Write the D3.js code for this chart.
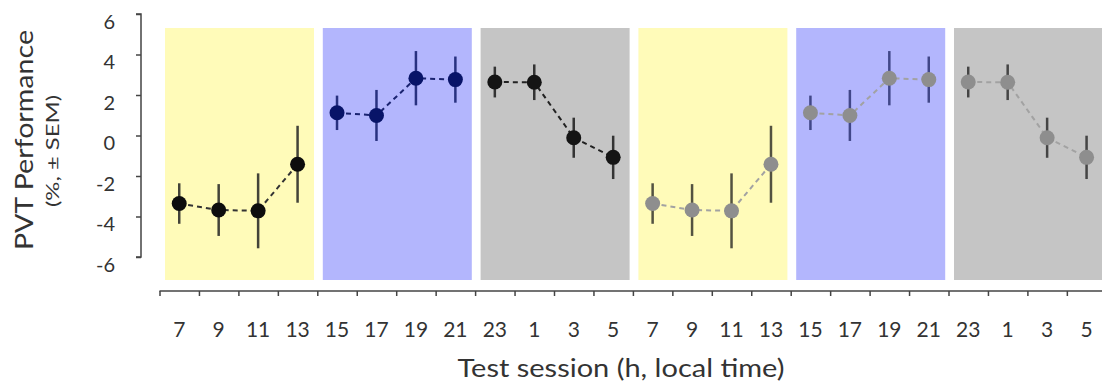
<!DOCTYPE html>
<html>
<head>
<meta charset="utf-8">
<script src="https://cdn.jsdelivr.net/npm/d3@7"></script>
<style>
  html, body { margin: 0; padding: 0; background: #fff; }
  svg { display: block; font-family: "Lato", "Open Sans", sans-serif; }
</style>
</head>
<body>
<svg id="chart" width="1102" height="387"></svg>
<script>
// Test-session clock times (h), double-plotted over two days
const sessionLabels = ["7","9","11","13","15","17","19","21","23","1","3","5",
                       "7","9","11","13","15","17","19","21","23","1","3","5"];
// PVT performance (%) and SEM per session
const perfMean = [-3.36, -3.68, -3.72, -1.42, 1.12, 0.99, 2.83, 2.76, 2.64, 2.63, -0.11, -1.08,
                  -3.36, -3.68, -3.72, -1.42, 1.12, 0.99, 2.83, 2.76, 2.64, 2.63, -0.11, -1.08];
const perfSem  = [1.00, 1.28, 1.85, 1.90, 0.85, 1.26, 1.34, 1.14, 0.76, 0.88, 0.99, 1.07,
                  1.00, 1.28, 1.85, 1.90, 0.85, 1.26, 1.34, 1.14, 0.76, 0.88, 0.99, 1.07];
const yTicks = [-6, -4, -2, 0, 2, 4, 6];
// Six 4-session phases: morning (yellow), evening (blue), night (grey)
const phaseFill = ["#fffbb9", "#b3b6fd", "#c5c5c5", "#fffbb9", "#b3b6fd", "#c5c5c5"];
const dotColor  = ["#0d0d0d", "#081468", "#141414", "#8e8e8e", "#8e8e8e", "#8e8e8e"];
const lineColor = ["#333333", "#1a2370", "#222222", "#a2a2a2", "#a2a2a2", "#a2a2a2"];
const barColor  = ["#222222", "#0f1a6a", "#1a1a1a", "#1a1a1a", "#1b2260", "#1a1a1a"];

const svg = d3.select("#chart");
const textColor = "#333";

const x = d3.scaleLinear().domain([0, 24]).range([159.5, 159.5 + 24 * 39.45]);
const y = d3.scaleLinear().domain([-6, 6]).range([257, 14]);

// Phase background panels
svg.append("g").selectAll("rect")
  .data(phaseFill)
  .join("rect")
  .attr("x", (d, i) => x(i * 4) + 5.5)
  .attr("y", y(6) + 14)
  .attr("width", 149)
  .attr("height", (y(-6) + 23) - (y(6) + 14))
  .attr("fill", d => d);

const pts = perfMean.map((m, i) => ({ i, m, s: perfSem[i], phase: Math.floor(i / 4) }));

// Error bars
svg.append("g").selectAll("line")
  .data(pts)
  .join("line")
  .attr("x1", d => x(d.i + 0.5)).attr("x2", d => x(d.i + 0.5))
  .attr("y1", d => y(d.m + d.s)).attr("y2", d => y(d.m - d.s))
  .attr("stroke", d => barColor[d.phase])
  .attr("stroke-opacity", d => d.phase < 3 ? 0.85 : 0.75)
  .attr("stroke-width", 2.5);

// Dashed connecting lines within each phase
const line = d3.line().x(d => x(d.i + 0.5)).y(d => y(d.m));
svg.append("g").selectAll("path")
  .data(d3.groups(pts, d => d.phase))
  .join("path")
  .attr("d", ([, g]) => line(g))
  .attr("fill", "none")
  .attr("stroke", ([p]) => lineColor[p])
  .attr("stroke-width", 2)
  .attr("stroke-dasharray", "5,4");

// Session means
svg.append("g").selectAll("circle")
  .data(pts)
  .join("circle")
  .attr("cx", d => x(d.i + 0.5))
  .attr("cy", d => y(d.m))
  .attr("r", 7.5)
  .attr("fill", d => dotColor[d.phase]);

// Y axis
const yAxis = svg.append("g").attr("transform", "translate(141,0)")
  .call(d3.axisLeft(y).tickValues(yTicks).tickSize(5).tickPadding(21).tickFormat(d => String(d)));
yAxis.select(".domain").attr("stroke", "#444").attr("stroke-width", 1.5)
  .attr("d", `M-5,${y(6)}H0V${y(-6)}H-5`);
yAxis.selectAll(".tick line").attr("stroke", "#444").attr("stroke-width", 1.5);
yAxis.selectAll(".tick text").attr("fill", textColor).attr("dy", "0.7em")
  .style("font-size", "20px").style("font-family", "Lato, sans-serif");

// X axis
const xAxis = svg.append("g").attr("transform", "translate(0,291)")
  .call(d3.axisBottom(x).tickValues(d3.range(0, 25)).tickSize(5).tickFormat(""));
xAxis.select(".domain").attr("stroke", "#444").attr("stroke-width", 1.5)
  .attr("d", `M${x(0)},0H1102`);
xAxis.selectAll(".tick line").attr("stroke", "#444").attr("stroke-width", 1.5);

svg.append("g").selectAll("text")
  .data(sessionLabels)
  .join("text")
  .attr("x", (d, i) => x(i + 0.5))
  .attr("y", 337)
  .attr("text-anchor", "middle")
  .attr("fill", textColor)
  .style("font-size", "21px")
  .text(d => d);

// Axis titles
svg.append("text")
  .attr("x", 621).attr("y", 377)
  .attr("text-anchor", "middle")
  .attr("fill", textColor)
  .attr("textLength", 327)
  .attr("lengthAdjust", "spacingAndGlyphs")
  .style("font-size", "25px")
  .text("Test session (h, local time)");

svg.append("text")
  .attr("transform", "translate(33,140) rotate(-90)")
  .attr("text-anchor", "middle")
  .attr("fill", textColor)
  .attr("textLength", 220)
  .attr("lengthAdjust", "spacingAndGlyphs")
  .style("font-size", "25px")
  .text("PVT Performance");

svg.append("text")
  .attr("transform", "translate(59,151) rotate(-90)")
  .attr("text-anchor", "middle")
  .attr("fill", textColor)
  .attr("textLength", 112)
  .attr("lengthAdjust", "spacingAndGlyphs")
  .style("font-size", "17px")
  .text("(%, ± SEM)");
</script>
</body>
</html>
